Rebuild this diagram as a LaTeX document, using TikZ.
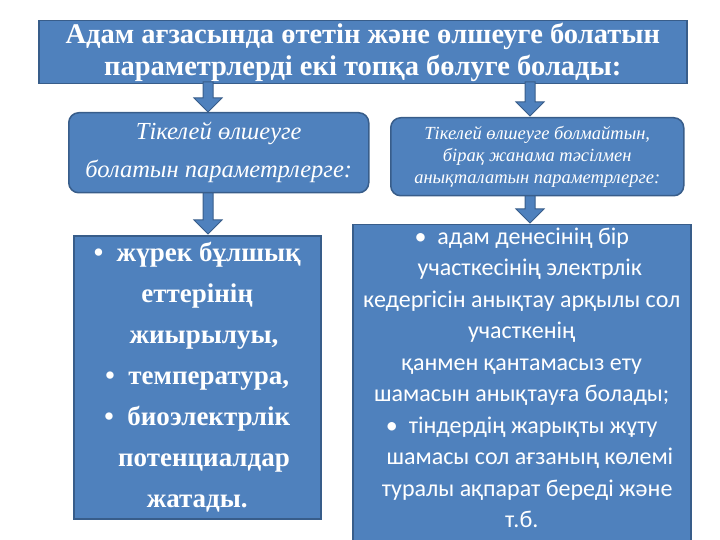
\documentclass[tikz,border=0pt]{standalone}
\usepackage{fontspec}
\setmainfont{Liberation Serif}
\newfontfamily\carl{Carlito}
\tikzset{
 bx/.style={fill=boxblue,draw=edgeblue,line width=1.5pt,text=white,align=center,inner sep=2pt},
 arr/.style={fill=boxblue,draw=edgeblue,line width=1pt}
}
\definecolor{boxblue}{HTML}{4F81BD}
\definecolor{edgeblue}{HTML}{385D8A}
\newcommand{\downarrowshape}[3]{% x, ytop, ybottom
 \draw[arr] (#1-5,#2) -- (#1+5,#2) -- (#1+5,#3-14) -- (#1+14,#3-14) -- (#1,#3) -- (#1-14,#3-14) -- (#1-5,#3-14) -- cycle;}
\begin{document}
\begin{tikzpicture}[x=1pt,y=-1pt]
\useasboundingbox (0,0) rectangle (720,540);
\node[bx,minimum width=648,minimum height=62,anchor=north west,font=\bfseries\fontsize{28.5}{32}\selectfont] (top) at (38,20) {Адам ағзасында өтетін және өлшеуге болатын\\параметрлерді екі топқа бөлуге болады:};
\node[bx,rounded corners=10pt,minimum width=300,minimum height=80,anchor=north west,font=\itshape\fontsize{24.5}{38}\selectfont] (l1) at (68,112) {Тікелей өлшеуге\\болатын параметрлерге:};
\node[bx,rounded corners=10pt,minimum width=293,minimum height=78,anchor=north west,font=\itshape\fontsize{18.5}{22}\selectfont] (r1) at (390,117) {Тікелей өлшеуге болмайтын,\\бірақ жанама тәсілмен\\анықталатын параметрлерге:};
\node[bx,minimum width=247,minimum height=283,anchor=north west] (l2) at (73,235) {};
\node[font=\bfseries\fontsize{27}{41}\selectfont,text=white,align=center,anchor=north] (l2t) at ([yshift=-4]l2.north) {• \ жүрек бұлшық\\ еттерінің\\ \ \ жиырылуы,\\ • \ температура,\\ • \ биоэлектрлік\\ \ \ потенциалдар\\ жатады.};
\node[bx,minimum width=338,minimum height=318,anchor=north west] (r2) at (352,224) {};
\node[font=\carl\fontsize{24}{31.5}\selectfont,text=white,align=center,anchor=north] (r2t) at ([yshift=0]r2.north) {• \ адам денесінің бір\\ \ \ \ участкесінің электрлік\\ кедергісін анықтау арқылы сол\\ участкенің\\ қанмен қантамасыз ету\\ шамасын анықтауға болады;\\ • \ тіндердің жарықты жұту\\ \ \ \ шамасы сол ағзаның көлемі\\ \ \ туралы ақпарат береді және\\ т.б.};
\downarrowshape{208}{82}{112}
\downarrowshape{530}{82}{116}
\downarrowshape{208}{193}{234}
\downarrowshape{530}{196}{223}
\end{tikzpicture}
\end{document}
